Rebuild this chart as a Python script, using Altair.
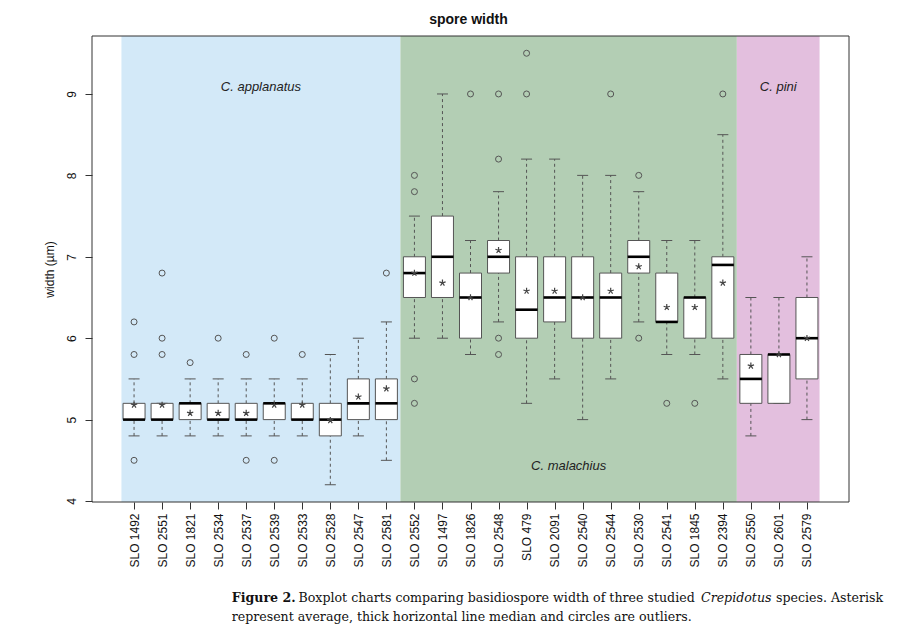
import altair as alt
import pandas as pd

# ---------------- data ----------------
names = ["SLO 1492", "SLO 2551", "SLO 1821", "SLO 2534", "SLO 2537", "SLO 2539",
         "SLO 2533", "SLO 2528", "SLO 2547", "SLO 2581", "SLO 2552", "SLO 1497",
         "SLO 1826", "SLO 2548", "SLO 479", "SLO 2091", "SLO 2540", "SLO 2544",
         "SLO 2530", "SLO 2541", "SLO 1845", "SLO 2394", "SLO 2550", "SLO 2601",
         "SLO 2579"]
q1 = [5.0, 5.0, 5.0, 5.0, 5.0, 5.0, 5.0, 4.8, 5.0, 5.0,
      6.5, 6.5, 6.0, 6.8, 6.0, 6.2, 6.0, 6.0, 6.8, 6.2, 6.0, 6.0,
      5.2, 5.2, 5.5]
median = [5.0, 5.0, 5.2, 5.0, 5.0, 5.2, 5.0, 5.0, 5.2, 5.2,
          6.8, 7.0, 6.5, 7.0, 6.35, 6.5, 6.5, 6.5, 7.0, 6.2, 6.5, 6.9,
          5.5, 5.8, 6.0]
q3 = [5.2, 5.2, 5.2, 5.2, 5.2, 5.2, 5.2, 5.2, 5.5, 5.5,
      7.0, 7.5, 6.8, 7.2, 7.0, 7.0, 7.0, 6.8, 7.2, 6.8, 6.5, 7.0,
      5.8, 5.8, 6.5]
whisker_low = [4.8, 4.8, 4.8, 4.8, 4.8, 4.8, 4.8, 4.2, 4.8, 4.5,
               6.0, 6.0, 5.8, 6.2, 5.2, 5.5, 5.0, 5.5, 6.2, 5.8, 5.8, 5.5,
               4.8, 5.2, 5.0]
whisker_high = [5.5, 5.2, 5.5, 5.5, 5.5, 5.5, 5.5, 5.8, 6.0, 6.2,
                7.5, 9.0, 7.2, 7.8, 8.2, 8.2, 8.0, 8.0, 7.8, 7.2, 7.2, 8.5,
                6.5, 6.5, 7.0]
means = [5.18, 5.18, 5.08, 5.08, 5.08, 5.18, 5.18, 4.99, 5.28, 5.38,
         6.8, 6.68, 6.5, 7.08, 6.58, 6.58, 6.5, 6.58, 6.88, 6.38, 6.38, 6.68,
         5.66, 5.8, 6.0]
outliers = [[6.2, 5.8, 4.5], [6.8, 6.0, 5.8], [5.7], [6.0], [5.8, 4.5],
            [6.0, 4.5], [5.8], [], [], [6.8],
            [8.0, 7.8, 5.5, 5.2], [], [9.0], [9.0, 8.2, 6.0, 5.8], [9.5, 9.0],
            [], [], [9.0], [8.0, 6.0], [5.2], [5.2], [9.0],
            [], [], []]

species = ["C. applanatus", "C. malachius", "C. pini"]
species_start = [0.55, 10.5, 22.5]
species_end = [10.5, 22.5, 25.45]
species_label_y = [9.09, 4.43, 9.09]
species_color = ["#D3E9F8", "#B3CEB4", "#E3BFDE"]

y_ticks = [4, 5, 6, 7, 8, 9]
title_text = "spore width"
y_title = "width (µm)"
caption_bold = "Figure 2."
caption_part1 = "Boxplot charts comparing basidiospore width of three studied"
caption_italic = "Crepidotus"
caption_part2 = "species.  Asterisk"
caption_line2 = "represent average, thick horizontal line median and circles are outliers."

# ---------------- tables ----------------
pos = list(range(1, len(names) + 1))
boxes = pd.DataFrame({"pos": pos, "name": names, "q1": q1, "median": median,
                      "q3": q3, "lo": whisker_low, "hi": whisker_high,
                      "mean": means})
out_rows = [{"pos": p, "v": v} for p, vals in zip(pos, outliers) for v in vals]
outs = pd.DataFrame(out_rows)
groups = pd.DataFrame({"species": species, "start": species_start,
                       "end": species_end, "ly": species_label_y,
                       "color": species_color})
groups["mid"] = (groups["start"] + groups["end"]) / 2

W, H = 757, 466
FONT = "Liberation Sans"
SERIF = "DejaVu Serif"
GRAY = "#555555"

xscale = alt.Scale(domain=[-0.5, 26.5], nice=False, zero=False, padding=0)
yscale = alt.Scale(domain=[3.988, 9.712], nice=False, zero=False, padding=0)

label_expr = "[" + ",".join("'%s'" % n for n in names) + "][datum.value - 1]"

xaxis = alt.Axis(values=pos, labelExpr=label_expr, labelAngle=-90,
                 labelAlign="right", labelBaseline="middle", labelPadding=4,
                 tickSize=7, tickColor="#333", domain=False, grid=False,
                 labelFont=FONT, labelFontSize=12, labelColor="#111",
                 title=None, labelOverlap=False, labelBound=False,
                 labelFlush=False)
yaxis = alt.Axis(values=y_ticks, format="d", labelAngle=-90, labelPadding=7,
                 tickSize=7, tickColor="#333", domain=False, grid=False,
                 labelFont=FONT, labelFontSize=12, labelColor="#111",
                 labelOverlap=False, labelFlush=False,
                 title=y_title, titleFont=FONT, titleFontSize=12,
                 titleFontWeight="normal", titleColor="#111", titlePadding=9)


def X(field):
    return alt.X(field, scale=xscale, axis=xaxis)


def Y(field):
    return alt.Y(field, scale=yscale, axis=yaxis)


base = alt.Chart(boxes)

bg = alt.Chart(groups).mark_rect().encode(
    x=X("start:Q"), x2="end:Q",
    y=alt.value(0), y2=alt.value(H),
    color=alt.Color("color:N", scale=None, legend=None),
)

whisk_up = base.mark_rule(color=GRAY, strokeDash=[3, 3], strokeWidth=1).encode(
    x=X("pos:Q"), y=Y("q3:Q"), y2="hi:Q")
whisk_dn = base.mark_rule(color=GRAY, strokeDash=[3, 3], strokeWidth=1).encode(
    x=X("pos:Q"), y=Y("lo:Q"), y2="q1:Q")
cap_up = base.mark_tick(orient="horizontal", size=11, thickness=1, color=GRAY,
                        opacity=1).encode(x=X("pos:Q"), y=Y("hi:Q"))
cap_dn = base.mark_tick(orient="horizontal", size=11, thickness=1, color=GRAY,
                        opacity=1).encode(x=X("pos:Q"), y=Y("lo:Q"))
box = base.mark_bar(size=22, fill="white", stroke=GRAY, strokeWidth=1).encode(
    x=X("pos:Q"), y=Y("q3:Q"), y2="q1:Q")
med = base.mark_tick(orient="horizontal", size=22, thickness=2.6, color="black",
                     opacity=1).encode(x=X("pos:Q"), y=Y("median:Q"))
out_pts = alt.Chart(outs).mark_point(shape="circle", size=36, filled=False,
                                     color=GRAY, strokeWidth=1, opacity=1).encode(
    x=X("pos:Q"), y=Y("v:Q"))
star_path = ("M0,0L0,-1M0,0L0.95,-0.31M0,0L0.59,0.81M0,0L-0.59,0.81"
             "M0,0L-0.95,-0.31")
mean_pts = base.mark_point(shape=star_path, size=44, filled=False, color="#444",
                           strokeWidth=1.2, opacity=1).encode(
    x=X("pos:Q"), y=Y("mean:Q"))

glabels = alt.Chart(groups).mark_text(font=FONT, fontSize=13, fontStyle="italic",
                                      color="#222", baseline="middle").encode(
    x=X("mid:Q"), y=Y("ly:Q"), text="species:N")

one = pd.DataFrame({"a": [0]})
frame = alt.Chart(one).mark_rect(
    fill=None, stroke="#333", strokeWidth=1).encode(
    x=alt.value(0), x2=alt.value(W), y=alt.value(0), y2=alt.value(H))

title = alt.Chart(pd.DataFrame({"t": [title_text]})).mark_text(
    font=FONT, fontSize=14, fontWeight="bold", color="#111", align="center",
    baseline="alphabetic").encode(
    x=alt.value(W / 2 - 2), y=alt.value(-12), text="t:N")


def cap(text, x, y, **kw):
    return alt.Chart(pd.DataFrame({"t": [text]})).mark_text(
        font=SERIF, fontSize=12.6, color="#111", align="left",
        baseline="alphabetic", **kw).encode(
        x=alt.value(x), y=alt.value(y), text="t:N")


captions = [
    cap(caption_bold, 139.7, 566, fontWeight="bold"),
    cap(caption_part1, 206.5, 566),
    cap(caption_italic, 609, 566, fontStyle="italic"),
    cap(caption_part2, 684, 566),
    cap(caption_line2, 139.7, 585),
]

chart = alt.layer(bg, whisk_up, whisk_dn, cap_up, cap_dn, box, med, out_pts,
                  mean_pts, glabels, frame, title, *captions).properties(
    width=W, height=H,
    autosize=alt.AutoSizeParams(type="none"),
    padding={"left": 92, "top": 36, "right": 53, "bottom": 137},
).configure_view(stroke=None)

chart.save("out.html", embed_options={"renderer": "svg", "actions": False})
